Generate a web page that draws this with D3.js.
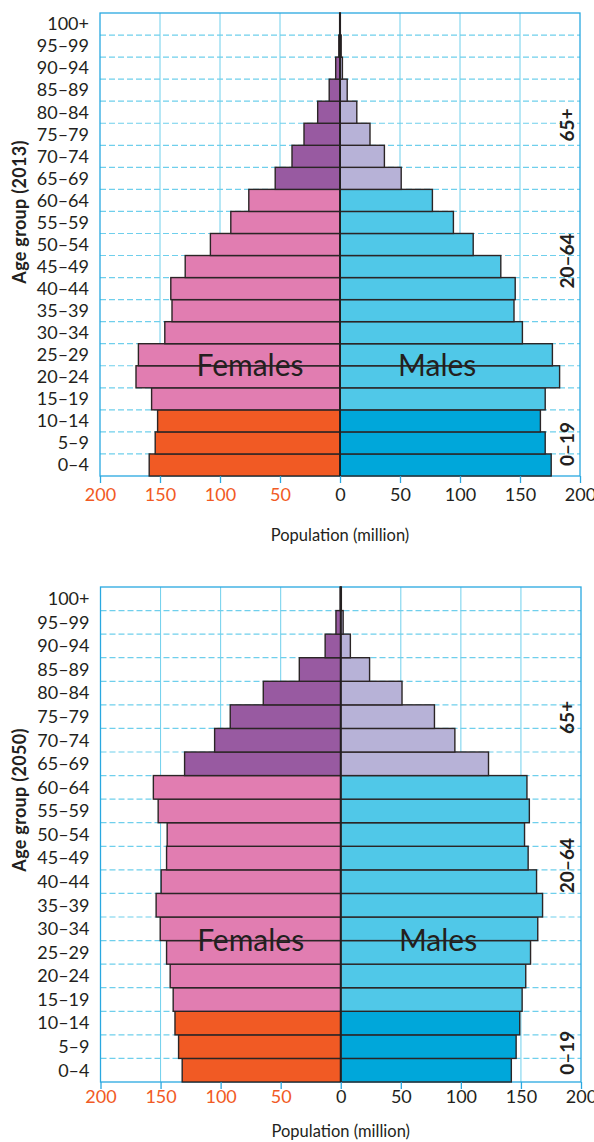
<!DOCTYPE html>
<html><head><meta charset="utf-8">
<script src="https://cdn.jsdelivr.net/npm/d3@7"></script>
<style>body{margin:0;background:#fff}svg{display:block;font-family:Lato,"Open Sans",sans-serif}</style>
</head><body>
<svg id="c" width="594" height="1142"></svg>
<script>
const ageGroups = ["0–4","5–9","10–14","15–19","20–24","25–29","30–34","35–39","40–44","45–49","50–54","55–59","60–64","65–69","70–74","75–79","80–84","85–89","90–94","95–99","100+"];
const broadGroups = ["0–19","20–64","65+"];
const females2013 = [159,154,152,157,170,168,146,140,141,129,108,91,76,54,40,30,18.6,9,3.6,1,0.3];
const males2013   = [176,171,167,171,183,177,152,145,146,134,111,94.5,77,51,37,25,14,6,2,1,0.3];
const females2050 = [132,135,138,139.5,142,145,150.3,153.7,149.5,145,144.5,152,156,130,105,92,64.5,34.5,13,4,0.5];
const males2050   = [142,146,149,151,154,158,164,168,163,156,153,157,155,123,95,78,51,24,8,2,0.5];
const xTicks = [-200,-150,-100,-50,0,50,100,150,200];

const C = {
  f:["#F15A24","#E17DB1","#985AA1"],
  m:["#00A7DA","#50C8E8","#B7B2D7"],
  grid:"#6FCFEC", frame:"#29A8E0", text:"#231F20", orange:"#F15A24"
};
function colourGroup(i){ return i<3?0:(i<13?1:2); }

const svg = d3.select("#c");

function pyramid(cfg){
  const g = svg.append("g");
  const x = d3.scaleLinear().domain([-200,200]).range([cfg.left,cfg.right]);
  const y = d3.scaleBand().domain(ageGroups.slice().reverse()).range([cfg.top,cfg.bottom]).padding(0);
  const yl = d3.scaleLinear().domain([0,ageGroups.length]).range([cfg.bottom,cfg.top]);
  g.selectAll(".vg").data(xTicks.filter(t=>Math.abs(t)!==200 && t!==0)).join("line")
    .attr("x1",d=>x(d)).attr("x2",d=>x(d)).attr("y1",cfg.top).attr("y2",cfg.bottom)
    .attr("stroke",C.grid).attr("stroke-width",1);
  g.selectAll(".hg").data(ageGroups.slice(1)).join("line")
    .attr("x1",cfg.left).attr("x2",cfg.right)
    .attr("y1",d=>y(d)+y.bandwidth()).attr("y2",d=>y(d)+y.bandwidth())
    .attr("stroke",C.grid).attr("stroke-width",1.2).attr("stroke-dasharray","6,3");
  g.append("rect").attr("x",cfg.left).attr("y",cfg.top).attr("width",cfg.right-cfg.left).attr("height",cfg.bottom-cfg.top)
    .attr("fill","none").attr("stroke",C.frame).attr("stroke-width",1.3);
  const rows = ageGroups.map((a,i)=>({a,i,f:cfg.females[i],m:cfg.males[i]}));
  g.selectAll(".bf").data(rows).join("rect")
    .attr("x",d=>x(-d.f)).attr("width",d=>x(0)-x(-d.f))
    .attr("y",d=>y(d.a)).attr("height",y.bandwidth())
    .attr("fill",d=>C.f[colourGroup(d.i)]).attr("stroke","#2B2526").attr("stroke-width",1.4);
  g.selectAll(".bm").data(rows).join("rect")
    .attr("x",x(0)).attr("width",d=>x(d.m)-x(0))
    .attr("y",d=>y(d.a)).attr("height",y.bandwidth())
    .attr("fill",d=>C.m[colourGroup(d.i)]).attr("stroke","#2B2526").attr("stroke-width",1.4);
  g.append("line").attr("x1",x(0)).attr("x2",x(0)).attr("y1",cfg.top).attr("y2",cfg.bottom)
    .attr("stroke","#231F20").attr("stroke-width",2);
  const ax = g.append("g").attr("transform",`translate(0,${cfg.bottom})`)
    .call(d3.axisBottom(x).tickValues(xTicks).tickSize(7).tickFormat(d=>Math.abs(d)));
  ax.select(".domain").remove();
  ax.selectAll(".tick line").attr("stroke",C.frame).attr("stroke-width",1.3);
  ax.selectAll(".tick text").attr("y",cfg.tickDy).attr("dy","0.35em")
    .attr("font-size","18px").attr("font-family","Lato")
    .attr("fill",d=>d<0?C.orange:C.text);
  g.append("text").attr("x",x(0)).attr("y",cfg.bottom+cfg.titleDy).attr("dy","0.35em")
    .attr("text-anchor","middle").attr("font-size","16.5px").attr("fill",C.text).text("Population (million)");
  g.selectAll(".yl").data(ageGroups).join("text")
    .attr("x",cfg.left-11).attr("y",d=>y(d)+y.bandwidth()/2).attr("dy","0.35em")
    .attr("text-anchor","end").attr("font-size","18px").attr("fill",C.text).text(d=>d);
  g.append("text").attr("transform",`translate(20,${cfg.yTitleY}) rotate(-90)`)
    .attr("dy","0.35em").attr("text-anchor","middle").attr("font-weight","bold")
    .attr("font-size","18px").attr("letter-spacing","0.3px").attr("fill",C.text).text(cfg.yTitle);
  broadGroups.forEach((b,k)=>{
    g.append("text").attr("transform",`translate(567,${yl(cfg.broadPos[k])}) rotate(-90)`)
      .attr("dy","0.35em").attr("text-anchor","middle").attr("font-weight","bold")
      .attr("font-size","19px").attr("fill",C.text).text(b);
  });
  g.append("text").attr("x",x(-75)).attr("y",yl(cfg.sexPos)).attr("dy","0.35em")
    .attr("text-anchor","middle").attr("font-size","30px").attr("fill",C.text).text("Females");
  g.append("text").attr("x",x(81)).attr("y",yl(cfg.sexPos)).attr("dy","0.35em")
    .attr("text-anchor","middle").attr("font-size","30px").attr("fill",C.text).text("Males");
}

pyramid({left:100,right:580,top:13,bottom:476,females:females2013,males:males2013,
  tickDy:18.7,titleDy:59,yTitle:"Age group (2013)",yTitleY:212,broadPos:[1.45,9.75,15.92],sexPos:5});
pyramid({left:100.5,right:581,top:587,bottom:1082,females:females2050,males:males2050,
  tickDy:15,titleDy:49,yTitle:"Age group (2050)",yTitleY:800,broadPos:[1.24,9.18,15.46],sexPos:6});
</script>
</body></html>
